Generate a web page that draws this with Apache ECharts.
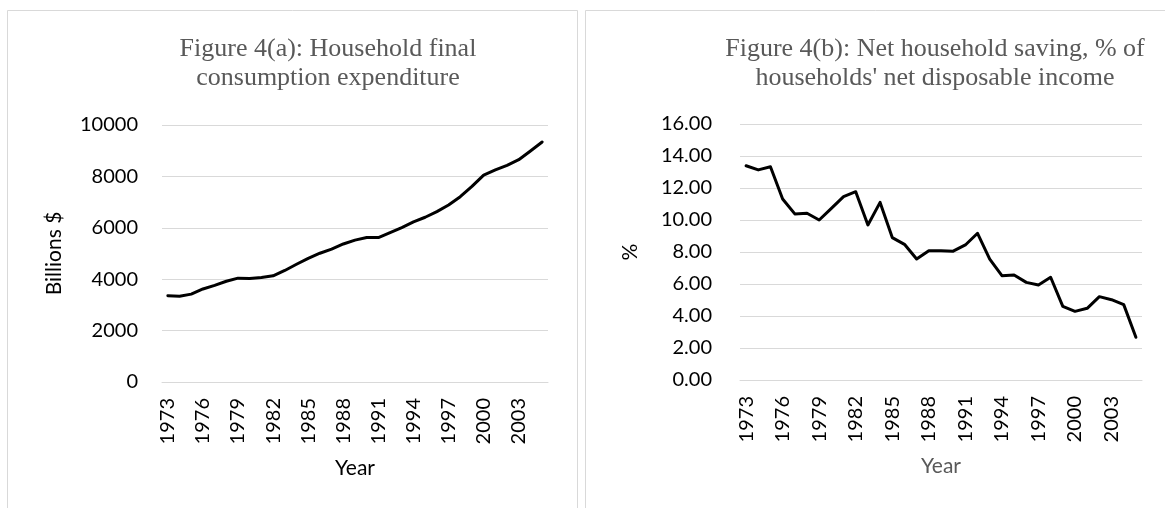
<!DOCTYPE html>
<html>
<head>
<meta charset="utf-8">
<title>Household consumption and saving</title>
<script src="https://cdn.jsdelivr.net/npm/echarts@6/dist/echarts.min.js"></script>
<style>
  html, body { margin: 0; padding: 0; background: #ffffff; }
  #chart { width: 1165px; height: 508px; }
</style>
</head>
<body>
<div id="chart"></div>
<script>
// Years shown on both panels
const years = [
  '1973','1974','1975','1976','1977','1978','1979','1980','1981','1982','1983',
  '1984','1985','1986','1987','1988','1989','1990','1991','1992','1993','1994',
  '1995','1996','1997','1998','1999','2000','2001','2002','2003','2004','2005'
];

// Household final consumption expenditure, billions $
const consumption = [
  3360, 3335, 3420, 3620, 3760, 3920, 4040, 4030, 4070, 4130, 4340,
  4580, 4810, 5010, 5170, 5370, 5520, 5625, 5620, 5810, 6010, 6230,
  6410, 6630, 6885, 7210, 7610, 8050, 8250, 8430, 8650, 8990, 9340
];

// Net household saving, % of households' net disposable income
const saving = [
  13.39, 13.13, 13.33, 11.31, 10.38, 10.42, 10.00, 10.73, 11.46, 11.77, 9.69,
  11.10, 8.90, 8.48, 7.56, 8.08, 8.08, 8.05, 8.44, 9.17, 7.56, 6.52,
  6.56, 6.10, 5.94, 6.42, 4.60, 4.29, 4.48, 5.21, 5.02, 4.71, 2.67
];

const titleA = 'Figure 4(a): Household final\nconsumption expenditure';
const titleB = "Figure 4(b): Net household saving, % of\nhouseholds' net disposable income";

const tickFont = { fontFamily: 'Lato', fontSize: 20, color: '#000000' };
const gridColor = '#d9d9d9';

function titleStyle() {
  return {
    fontFamily: '"Liberation Serif", "Times New Roman", serif',
    fontSize: 26,
    fontWeight: 'normal',
    color: '#595959',
    lineHeight: 29,
    align: 'center'
  };
}

function xAxisFor(gridIndex, nameColor) {
  return {
    type: 'category',
    gridIndex: gridIndex,
    data: years,
    boundaryGap: true,
    name: 'Year',
    nameLocation: 'middle',
    nameGap: 76,
    nameTextStyle: { fontFamily: 'Lato', fontSize: 21, color: nameColor },
    axisLine: { show: true, lineStyle: { color: gridColor, width: 1 } },
    axisTick: { show: false },
    axisLabel: Object.assign({ interval: 2, rotate: 90, margin: 16 }, tickFont),
    splitLine: { show: false }
  };
}

function yAxisFor(gridIndex, opts) {
  return {
    type: 'value',
    gridIndex: gridIndex,
    min: 0,
    max: opts.max,
    interval: opts.interval,
    name: opts.name,
    nameLocation: 'middle',
    nameGap: opts.nameGap,
    nameRotate: 90,
    nameTextStyle: { fontFamily: 'Lato', fontSize: 21, color: '#000000' },
    axisLine: { show: false },
    axisTick: { show: false },
    axisLabel: Object.assign({ margin: opts.margin, formatter: opts.formatter }, tickFont),
    splitLine: { show: true, lineStyle: { color: gridColor, width: 1 } }
  };
}

const chart = echarts.init(document.getElementById('chart'), null, { renderer: 'canvas' });

chart.setOption({
  backgroundColor: '#ffffff',
  animation: false,
  // Light frames around each panel
  graphic: [
    { type: 'rect', silent: true, shape: { x: 7.5, y: 10.5, width: 570, height: 520 },
      style: { fill: 'none', stroke: gridColor, lineWidth: 1 } },
    { type: 'rect', silent: true, shape: { x: 585.5, y: 10.5, width: 600, height: 520 },
      style: { fill: 'none', stroke: gridColor, lineWidth: 1 } }
  ],
  title: [
    { text: titleA, left: 328, top: 35, textAlign: 'center', padding: 0, textStyle: titleStyle() },
    { text: titleB, left: 935, top: 35, textAlign: 'center', padding: 0, textStyle: titleStyle() }
  ],
  grid: [
    { left: 162, right: 617, top: 125, bottom: 126, containLabel: false },
    { left: 740, right: 23, top: 124, bottom: 128, containLabel: false }
  ],
  xAxis: [
    xAxisFor(0, '#000000'),
    xAxisFor(1, '#595959')
  ],
  yAxis: [
    yAxisFor(0, { max: 10000, interval: 2000, name: 'Billions $', nameGap: 97, margin: 24,
                  formatter: v => String(v) }),
    yAxisFor(1, { max: 16, interval: 2, name: '%', nameGap: 99, margin: 28,
                  formatter: v => v.toFixed(2) })
  ],
  series: [
    {
      type: 'line', xAxisIndex: 0, yAxisIndex: 0, data: consumption,
      showSymbol: false, smooth: false,
      lineStyle: { color: '#000000', width: 3, cap: 'round', join: 'round' }
    },
    {
      type: 'line', xAxisIndex: 1, yAxisIndex: 1, data: saving,
      showSymbol: false, smooth: false,
      lineStyle: { color: '#000000', width: 3, cap: 'round', join: 'round' }
    }
  ]
});
</script>
</body>
</html>
